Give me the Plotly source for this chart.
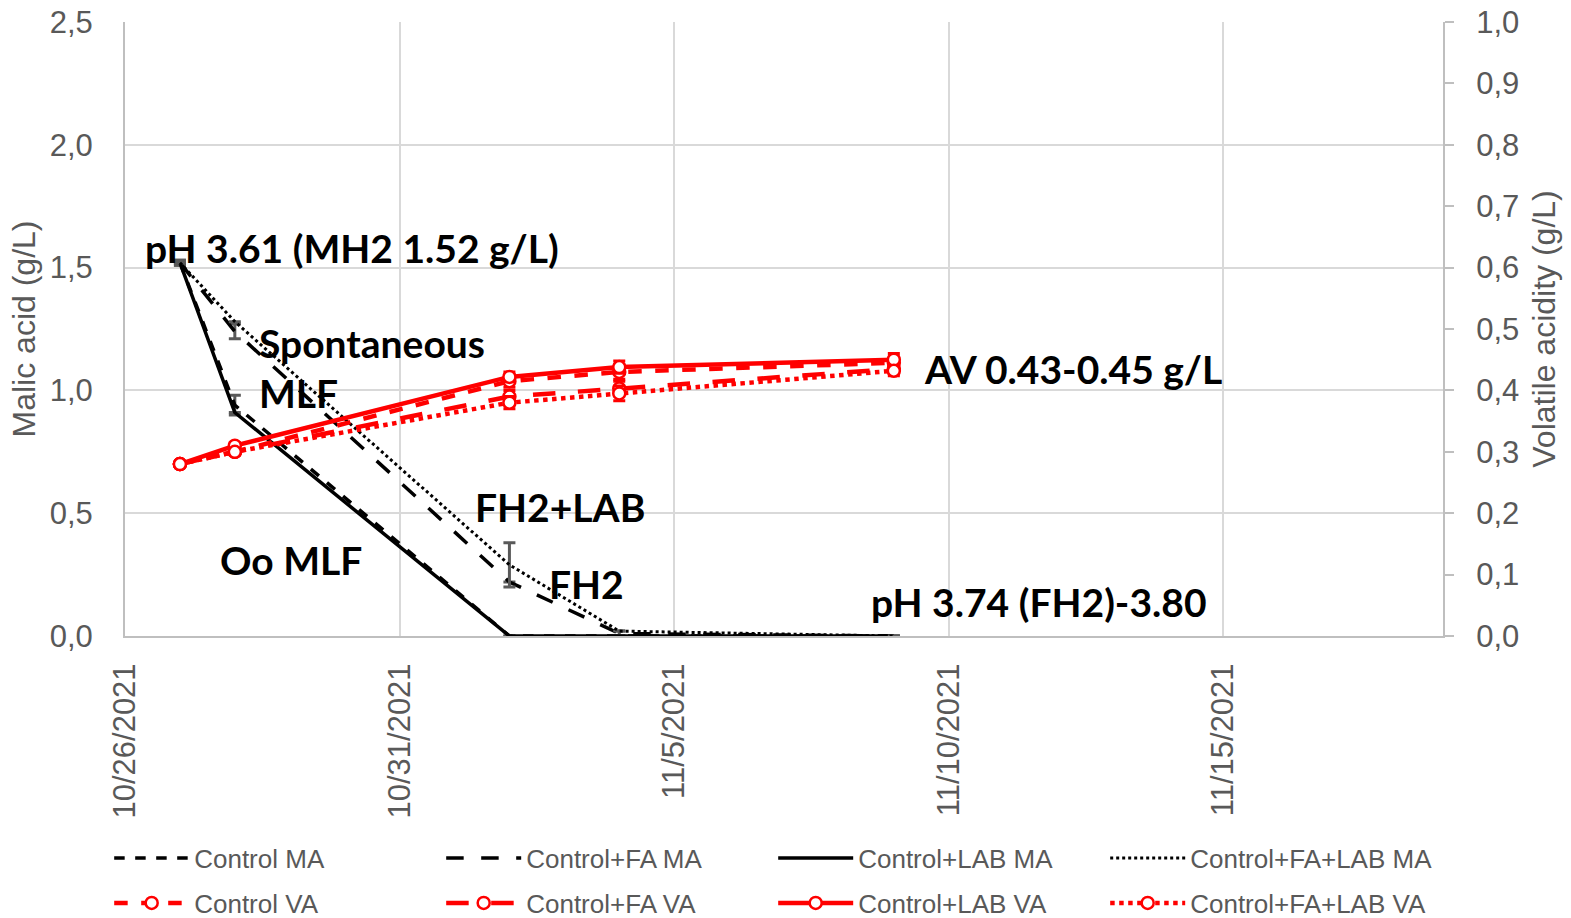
import plotly.graph_objects as go

# Sampling dates
dates = ["2021-10-27", "2021-10-28", "2021-11-02", "2021-11-04", "2021-11-09"]

# Malic acid (g/L)
control_ma = [1.52, 0.94, 0.0, 0.0, 0.0]
control_fa_ma = [1.52, 1.24, 0.22, 0.01, 0.0]
control_lab_ma = [1.52, 0.91, 0.0, 0.0, 0.0]
control_fa_lab_ma = [1.52, 1.28, 0.29, 0.02, 0.0]

# Malic acid standard deviations
control_ma_sd = [0.01, 0.04, 0.0, 0.0, 0.0]
control_fa_ma_sd = [0.01, 0.03, 0.0, 0.01, 0.0]
control_lab_ma_sd = [0.0, 0.0, 0.0, 0.0, 0.0]
control_fa_lab_ma_sd = [0.0, 0.0, 0.09, 0.0, 0.0]

# Volatile acidity (g/L)
control_va = [0.28, 0.30, 0.415, 0.43, 0.445]
control_fa_va = [0.28, 0.30, 0.39, 0.403, 0.435]
control_lab_va = [0.28, 0.31, 0.422, 0.438, 0.45]
control_fa_lab_va = [0.28, 0.30, 0.38, 0.395, 0.432]

# Volatile acidity standard deviations
control_va_sd = [0.0, 0.005, 0.01, 0.012, 0.01]
control_fa_va_sd = [0.0, 0.005, 0.01, 0.012, 0.008]
control_lab_va_sd = [0.0, 0.005, 0.008, 0.01, 0.01]
control_fa_lab_va_sd = [0.0, 0.005, 0.01, 0.012, 0.008]

# Date axis ticks
tick_dates = ["2021-10-26", "2021-10-31", "2021-11-05", "2021-11-10", "2021-11-15"]
tick_labels = ["10/26/2021", "10/31/2021", "11/5/2021", "11/10/2021", "11/15/2021"]

GRAY_TXT = "#595959"
GRID = "#d9d9d9"
AXIS = "#bfbfbf"
ERR_MA = "#595959"
RED = "#ff0000"
TICK_SIZE = 31
TITLE_SIZE = 32
LEGEND_SIZE = 26

fig = go.Figure()

ma_series = [
    ("Control MA", control_ma, control_ma_sd, "dash", 3.5),
    ("Control+FA MA", control_fa_ma, control_fa_ma_sd, "longdash", 3.5),
    ("Control+LAB MA", control_lab_ma, control_lab_ma_sd, "solid", 3.5),
    ("Control+FA+LAB MA", control_fa_lab_ma, control_fa_lab_ma_sd, "dot", 3),
]
for name, vals, sd, dash, w in ma_series:
    fig.add_trace(go.Scatter(
        x=dates, y=vals, name=name, mode="lines",
        line=dict(color="black", dash=dash, width=w),
        error_y=dict(type="data", array=sd, visible=True, color=ERR_MA,
                     thickness=3, width=6),
        yaxis="y", legend="legend",
    ))

va_series = [
    ("Control VA", control_va, control_va_sd, "dash"),
    ("Control+FA VA", control_fa_va, control_fa_va_sd, "longdash"),
    ("Control+LAB VA", control_lab_va, control_lab_va_sd, "solid"),
    ("Control+FA+LAB VA", control_fa_lab_va, control_fa_lab_va_sd, "dot"),
]
for name, vals, sd, dash in va_series:
    fig.add_trace(go.Scatter(
        x=dates, y=vals, name=name, mode="lines+markers",
        line=dict(color=RED, dash=dash, width=4.5),
        marker=dict(symbol="circle", size=12, color="white",
                    line=dict(color=RED, width=2.5)),
        error_y=dict(type="data", array=sd, visible=True, color=RED,
                     thickness=3, width=6),
        yaxis="y2", legend="legend2",
    ))

bold = dict(family="Lato", size=39, color="black")
notes = [
    ("pH 3.61 (MH2 1.52 g/L)", 143, 248),
    ("Spontaneous", 257, 343),
    ("MLF", 257, 393),
    ("FH2+LAB", 473, 507),
    ("Oo MLF", 218, 560),
    ("FH2", 547, 584),
    ("pH 3.74 (FH2)-3.80", 869, 602),
    ("AV 0.43-0.45 g/L", 922, 369),
]
W, H = 1571, 918
X0, X1, Y0, Y1 = 125, 1443, 636, 22
for text, px, py in notes:
    fig.add_annotation(
        text="<b>%s</b>" % text, xref="paper", yref="paper",
        x=(px - X0) / (X1 - X0), y=(Y0 - py) / (Y0 - Y1),
        xanchor="left", yanchor="middle", showarrow=False, font=bold,
    )

legend_common = dict(
    orientation="h", xanchor="left", yanchor="middle",
    itemwidth=75, entrywidth=242, bgcolor="rgba(0,0,0,0)",
    font=dict(size=LEGEND_SIZE, color=GRAY_TXT, family="Liberation Sans"),
)

fig.update_layout(
    width=W, height=H,
    margin=dict(l=X0, r=W - X1, t=Y1, b=H - Y0, autoexpand=False),
    paper_bgcolor="white", plot_bgcolor="white",
    separators=",.",
    font=dict(family="Liberation Sans", color=GRAY_TXT, size=TICK_SIZE),
    xaxis=dict(
        type="date", range=["2021-10-26", "2021-11-19"],
        tickvals=tick_dates, ticktext=tick_labels, tickangle=-90,
        showgrid=True, gridcolor=GRID, gridwidth=2,
        showline=True, linecolor=AXIS, linewidth=2,
        ticks="outside", ticklen=0, ticklabelstandoff=13, automargin=False,
        tickfont=dict(size=TICK_SIZE, color=GRAY_TXT), zeroline=False,
    ),
    yaxis=dict(
        range=[0, 2.5], dtick=0.5, tickformat=".1f",
        showgrid=True, gridcolor=GRID, gridwidth=2,
        showline=True, linecolor=AXIS, linewidth=2, zeroline=False,
        ticklabelstandoff=24, automargin=False,
        title=dict(text="Malic acid (g/L)", font=dict(size=TITLE_SIZE, color=GRAY_TXT), standoff=4),
        tickfont=dict(size=TICK_SIZE, color=GRAY_TXT),
    ),
    yaxis2=dict(
        range=[0, 1.0], dtick=0.1, tickformat=".1f", overlaying="y", side="right",
        showgrid=False, showline=True, linecolor=AXIS, linewidth=2, zeroline=False,
        ticks="outside", ticklen=9, tickcolor=AXIS, tickwidth=2, ticklabelstandoff=16,
        automargin=False,
        title=dict(text="Volatile acidity (g/L)", font=dict(size=TITLE_SIZE, color=GRAY_TXT), standoff=14),
        tickfont=dict(size=TICK_SIZE, color=GRAY_TXT),
    ),
    legend=dict(x=-0.012, y=(Y0 - 858) / (Y0 - Y1), **legend_common),
    legend2=dict(x=-0.012, y=(Y0 - 903) / (Y0 - Y1), **legend_common),
    showlegend=True,
)

fig.write_html("out.html")
